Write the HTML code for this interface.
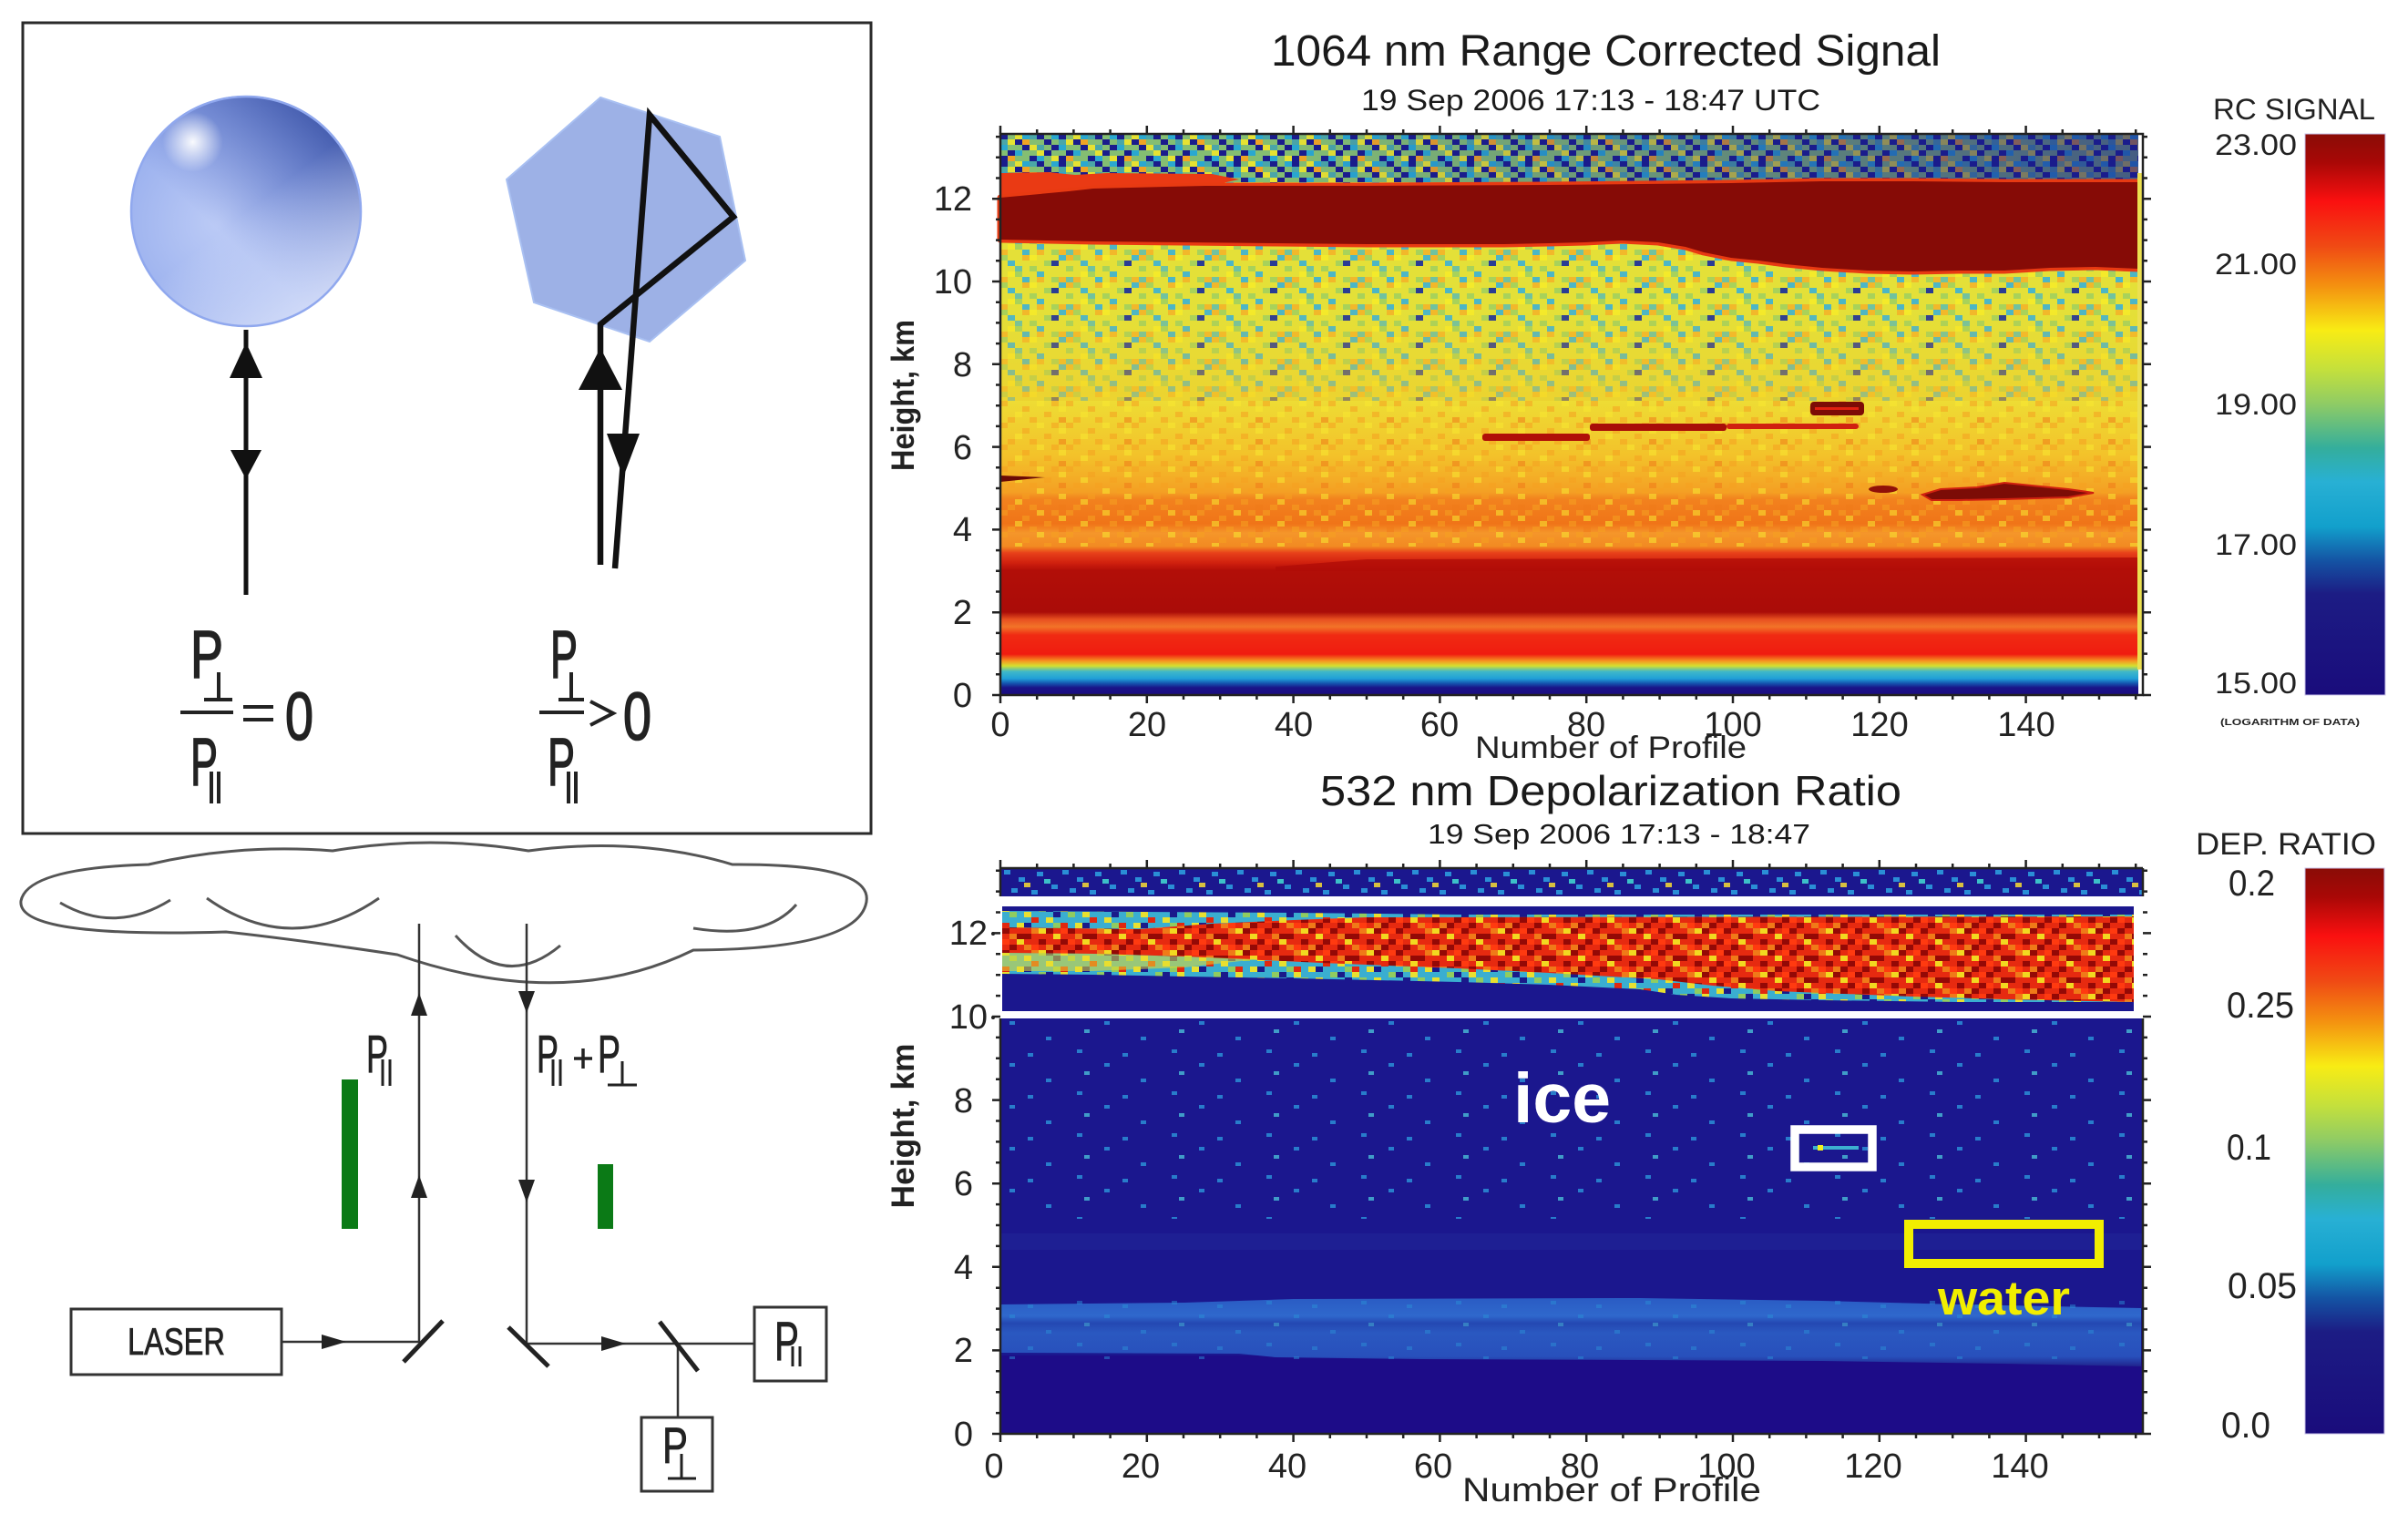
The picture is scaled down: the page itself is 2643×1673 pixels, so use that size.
<!DOCTYPE html>
<html><head><meta charset="utf-8"><style>html,body{margin:0;padding:0;background:#fff}svg{display:block}</style></head>
<body>
<svg width="2643" height="1673" viewBox="0 0 2643 1673" xmlns="http://www.w3.org/2000/svg" xmlns:xlink="http://www.w3.org/1999/xlink" font-family="'Liberation Sans', Arial, sans-serif">
<defs>
<linearGradient id="gCB" x1="0" y1="0" x2="0" y2="1">
<stop offset="0" stop-color="#8a0c06"/><stop offset="0.05" stop-color="#a80806"/><stop offset="0.12" stop-color="#fa1010"/><stop offset="0.2" stop-color="#f04a14"/><stop offset="0.27" stop-color="#f49010"/><stop offset="0.35" stop-color="#f8ec14"/><stop offset="0.42" stop-color="#c4e03c"/><stop offset="0.48" stop-color="#90cc64"/><stop offset="0.56" stop-color="#34ae9c"/><stop offset="0.62" stop-color="#28b0d4"/><stop offset="0.70" stop-color="#12a0cc"/><stop offset="0.76" stop-color="#1454a4"/><stop offset="0.82" stop-color="#1c1c84"/><stop offset="1" stop-color="#1a0c7c"/>
</linearGradient>
<linearGradient id="gLow" gradientUnits="userSpaceOnUse" x1="0" y1="440" x2="0" y2="763">
<stop offset="0" stop-color="#eedc34"/><stop offset="0.186" stop-color="#f3c22a"/><stop offset="0.31" stop-color="#f4a024"/><stop offset="0.334" stop-color="#f2821e"/><stop offset="0.418" stop-color="#f07418"/><stop offset="0.449" stop-color="#f5962a"/><stop offset="0.495" stop-color="#f28a22"/><stop offset="0.517" stop-color="#e8401a"/><stop offset="0.551" stop-color="#d0200e"/><stop offset="0.576" stop-color="#b20e08"/><stop offset="0.718" stop-color="#aa0c08"/><stop offset="0.743" stop-color="#e85020"/><stop offset="0.768" stop-color="#f27428"/><stop offset="0.796" stop-color="#f02a12"/><stop offset="0.861" stop-color="#f01c10"/><stop offset="0.885" stop-color="#f59a22"/><stop offset="0.901" stop-color="#d4e030"/><stop offset="0.92" stop-color="#40b8c8"/><stop offset="0.944" stop-color="#20a0d8"/><stop offset="0.96" stop-color="#1456b0"/><stop offset="0.975" stop-color="#1a1488"/><stop offset="1" stop-color="#1a0c80"/>
</linearGradient>
<linearGradient id="gOrT" gradientUnits="userSpaceOnUse" x1="0" y1="340" x2="0" y2="445">
<stop offset="0" stop-color="#f3c828" stop-opacity="0"/><stop offset="1" stop-color="#f3c828" stop-opacity="0.55"/>
</linearGradient>
<linearGradient id="gNavR" gradientUnits="userSpaceOnUse" x1="1400" y1="0" x2="2347" y2="0">
<stop offset="0" stop-color="#1a1c8c" stop-opacity="0"/><stop offset="1" stop-color="#1a1c8c" stop-opacity="0.6"/>
</linearGradient>
<linearGradient id="gBand" gradientUnits="userSpaceOnUse" x1="0" y1="1426" x2="0" y2="1500">
<stop offset="0" stop-color="#2a5cc4"/><stop offset="0.25" stop-color="#2f68cc"/><stop offset="0.36" stop-color="#2448b2"/><stop offset="0.5" stop-color="#2a58c0"/><stop offset="0.85" stop-color="#2850bc"/><stop offset="1" stop-color="#20248e"/>
</linearGradient>
<radialGradient id="sph" cx="0.38" cy="0.55" r="0.65">
<stop offset="0" stop-color="#bccbf6"/><stop offset="0.7" stop-color="#9ab0ee"/><stop offset="1" stop-color="#8aa0e6"/>
</radialGradient>
<linearGradient id="sphD" x1="0.85" y1="0.1" x2="0.4" y2="0.6">
<stop offset="0" stop-color="#3e56a8" stop-opacity="0.95"/><stop offset="1" stop-color="#5a72c8" stop-opacity="0"/>
</linearGradient>
<linearGradient id="sphL" x1="0.5" y1="0.5" x2="0.85" y2="0.95">
<stop offset="0" stop-color="#e4eafc" stop-opacity="0"/><stop offset="1" stop-color="#e4eafc" stop-opacity="0.85"/>
</linearGradient>
<radialGradient id="sphH" cx="0.27" cy="0.2" r="0.13">
<stop offset="0" stop-color="#ffffff" stop-opacity="0.95"/><stop offset="1" stop-color="#ffffff" stop-opacity="0"/>
</radialGradient>

<pattern id="pN" width="64" height="30" patternUnits="userSpaceOnUse" x="1098" y="147">
<rect width="64" height="30" fill="#84be72"/>
<g fill="#1a1c8c"><rect x="0" y="0" width="8" height="6"/><rect x="16" y="6" width="8" height="6"/><rect x="40" y="0" width="8" height="6"/><rect x="56" y="12" width="8" height="6"/><rect x="8" y="18" width="8" height="6"/><rect x="32" y="24" width="8" height="6"/><rect x="48" y="18" width="8" height="6"/><rect x="24" y="12" width="8" height="6"/><rect x="0" y="24" width="8" height="6"/><rect x="48" y="6" width="8" height="6"/></g>
<g fill="#2aa8d0"><rect x="24" y="0" width="8" height="6"/><rect x="0" y="12" width="8" height="6"/><rect x="40" y="24" width="8" height="6"/><rect x="56" y="0" width="8" height="6"/><rect x="16" y="18" width="8" height="6"/></g>
<g fill="#e6e232"><rect x="8" y="6" width="8" height="6"/><rect x="32" y="12" width="8" height="6"/><rect x="40" y="18" width="8" height="6"/><rect x="16" y="0" width="8" height="6"/><rect x="56" y="24" width="8" height="6"/></g>
<g fill="#f0a424"><rect x="24" y="6" width="8" height="6"/><rect x="8" y="24" width="8" height="6"/></g>
<g fill="#4aa6a8"><rect x="32" y="0" width="8" height="6"/><rect x="0" y="6" width="8" height="6"/><rect x="40" y="12" width="8" height="6"/></g>
</pattern>
<pattern id="pY" width="80" height="30" patternUnits="userSpaceOnUse" x="1098" y="190">
<rect width="80" height="30" fill="#e4e038"/>
<g fill="#4cb6c6"><rect x="8" y="6" width="8" height="6"/><rect x="40" y="18" width="8" height="6"/><rect x="64" y="0" width="8" height="6"/><rect x="24" y="24" width="8" height="6"/></g>
<g fill="#a8d25a"><rect x="0" y="0" width="8" height="6"/><rect x="32" y="12" width="8" height="6"/><rect x="56" y="24" width="8" height="6"/><rect x="72" y="12" width="8" height="6"/><rect x="16" y="18" width="8" height="6"/><rect x="48" y="6" width="8" height="6"/></g>
<g fill="#f2b82a"><rect x="24" y="0" width="8" height="6"/><rect x="64" y="24" width="8" height="6"/><rect x="0" y="24" width="8" height="6"/><rect x="40" y="24" width="8" height="6"/><rect x="72" y="0" width="8" height="6"/></g>
<g fill="#2a3c94"><rect x="56" y="6" width="8" height="6"/></g>
<g fill="#70c2a0"><rect x="16" y="12" width="8" height="6"/><rect x="72" y="24" width="8" height="6"/></g>
<g fill="#f4ea2a"><rect x="32" y="0" width="8" height="6"/><rect x="8" y="18" width="8" height="6"/></g>
</pattern>
<pattern id="pO" width="72" height="24" patternUnits="userSpaceOnUse" x="1098" y="440">
<g fill="#f5a020"><rect x="0" y="0" width="8" height="6"/><rect x="24" y="6" width="8" height="6"/><rect x="48" y="12" width="8" height="6"/><rect x="8" y="18" width="8" height="6"/><rect x="56" y="0" width="8" height="6"/><rect x="32" y="18" width="8" height="6"/></g>
<g fill="#f8e830"><rect x="16" y="12" width="8" height="6"/><rect x="40" y="0" width="8" height="6"/><rect x="64" y="6" width="8" height="6"/></g>
<g fill="#f07a18"><rect x="64" y="18" width="8" height="6"/></g>
</pattern>
<pattern id="pR" width="72" height="24" patternUnits="userSpaceOnUse" x="1100" y="995">
<rect width="72" height="24" fill="#e62a10"/>
<g fill="#940906"><rect x="0" y="0" width="8" height="6"/><rect x="24" y="6" width="8" height="6"/><rect x="48" y="0" width="8" height="6"/><rect x="64" y="12" width="8" height="6"/><rect x="8" y="18" width="8" height="6"/><rect x="40" y="12" width="8" height="6"/><rect x="56" y="18" width="8" height="6"/><rect x="16" y="6" width="8" height="6"/></g>
<g fill="#f07a18"><rect x="32" y="0" width="8" height="6"/><rect x="8" y="6" width="8" height="6"/><rect x="48" y="18" width="8" height="6"/><rect x="24" y="18" width="8" height="6"/></g>
<g fill="#f2d820"><rect x="16" y="12" width="8" height="6"/><rect x="56" y="6" width="8" height="6"/><rect x="40" y="0" width="8" height="6"/></g>
<g fill="#ff3a10"><rect x="0" y="12" width="8" height="6"/><rect x="32" y="18" width="8" height="6"/><rect x="64" y="0" width="8" height="6"/></g>
</pattern>
<pattern id="pC" width="64" height="24" patternUnits="userSpaceOnUse" x="1100" y="995">
<rect width="64" height="24" fill="#3aaed0"/>
<g fill="#e8e030"><rect x="0" y="0" width="8" height="6"/><rect x="24" y="6" width="8" height="6"/><rect x="48" y="12" width="8" height="6"/><rect x="16" y="18" width="8" height="6"/></g>
<g fill="#90cc60"><rect x="8" y="6" width="8" height="6"/><rect x="40" y="0" width="8" height="6"/><rect x="56" y="18" width="8" height="6"/></g>
<g fill="#e02810"><rect x="32" y="12" width="8" height="6"/><rect x="0" y="18" width="8" height="6"/></g>
<g fill="#1a1a8a"><rect x="48" y="0" width="8" height="6"/><rect x="24" y="18" width="8" height="6"/><rect x="56" y="6" width="8" height="6"/></g>
</pattern>
<pattern id="pB" width="104" height="46" patternUnits="userSpaceOnUse" x="1098" y="1118">
<g fill="#2a8ed6"><rect x="10" y="3" width="6" height="4"/><rect x="50" y="20" width="6" height="4"/><rect x="84" y="34" width="6" height="4"/><rect x="30" y="38" width="6" height="4"/></g>
<rect x="92" y="12" width="6" height="4" fill="#46b4d2"/>
</pattern>
<pattern id="pB2" width="64" height="30" patternUnits="userSpaceOnUse" x="1098" y="953">
<g fill="#2a8ed6"><rect x="4" y="2" width="7" height="5"/><rect x="20" y="10" width="7" height="5"/><rect x="40" y="4" width="7" height="5"/><rect x="56" y="18" width="7" height="5"/><rect x="12" y="22" width="7" height="5"/><rect x="34" y="24" width="7" height="5"/></g>
<rect x="48" y="12" width="7" height="5" fill="#3cc0c8"/>
<rect x="26" y="16" width="7" height="5" fill="#d8c040"/>
</pattern>

<path id="xt" d="M1098 0v-9M1138.2 0v-5M1178.4 0v-5M1218.6 0v-5M1258.8 0v-9M1299 0v-5M1339.2 0v-5M1379.4 0v-5M1419.6 0v-9M1459.8 0v-5M1500 0v-5M1540.2 0v-5M1580.4 0v-9M1620.6 0v-5M1660.8 0v-5M1701 0v-5M1741.2 0v-9M1781.4 0v-5M1821.6 0v-5M1861.8 0v-5M1902 0v-9M1942.2 0v-5M1982.4 0v-5M2022.6 0v-5M2062.8 0v-9M2103 0v-5M2143.2 0v-5M2183.4 0v-5M2223.6 0v-9M2263.8 0v-5M2304 0v-5M2344.2 0v-5" stroke="#222" stroke-width="2.5" fill="none"/>
<path id="ytT" d="M0 763h-9M0 740.3h-5M0 717.6h-5M0 694.9h-5M0 672.2h-9M0 649.5h-5M0 626.8h-5M0 604.1h-5M0 581.4h-9M0 558.7h-5M0 536h-5M0 513.3h-5M0 490.6h-9M0 467.9h-5M0 445.2h-5M0 422.5h-5M0 399.8h-9M0 377.1h-5M0 354.4h-5M0 331.7h-5M0 309h-9M0 286.3h-5M0 263.6h-5M0 240.9h-5M0 218.2h-9M0 195.5h-5M0 172.8h-5M0 150.1h-5" stroke="#222" stroke-width="2.5" fill="none"/>
<path id="ytB" d="M0 1574h-9M0 1551.1h-5M0 1528.2h-5M0 1505.3h-5M0 1482.4h-9M0 1459.5h-5M0 1436.6h-5M0 1413.7h-5M0 1390.8h-9M0 1367.9h-5M0 1345h-5M0 1322.1h-5M0 1299.2h-9M0 1276.3h-5M0 1253.4h-5M0 1230.5h-5M0 1207.6h-9M0 1184.7h-5M0 1161.8h-5M0 1138.9h-5M0 1116h-9M0 1093.1h-5M0 1070.2h-5M0 1047.3h-5M0 1024.4h-9M0 1001.5h-5M0 978.6h-5M0 955.7h-5" stroke="#222" stroke-width="2.5" fill="none"/>
</defs>

<rect width="2643" height="1673" fill="#fff"/>

<!-- ================= LEFT TOP BOX ================= -->
<rect x="25" y="25" width="931" height="890" fill="#fff" stroke="#2a2a2a" stroke-width="3"/>
<circle cx="270" cy="232" r="127" fill="url(#sph)"/>
<circle cx="270" cy="232" r="127" fill="url(#sphD)"/>
<circle cx="270" cy="232" r="127" fill="url(#sphL)"/>
<circle cx="270" cy="232" r="127" fill="url(#sphH)"/>
<circle cx="270" cy="232" r="126" fill="none" stroke="#90a8ee" stroke-width="2.5"/>
<line x1="270" y1="362" x2="270" y2="653" stroke="#111" stroke-width="5"/>
<polygon points="270,376 252,415 288,415" fill="#111"/>
<polygon points="270,526 253,494 287,494" fill="#111"/>

<polygon points="659,107 790,150 818,286 713,375 586,332 556,197" fill="#9db1e6" stroke="#a9c0f2" stroke-width="2"/>
<polyline points="659,620 659,356 805,238 713,126 675,624" fill="none" stroke="#111" stroke-width="6.5" stroke-linejoin="miter"/>
<polygon points="659,382 635,428 683,428" fill="#111"/>
<polygon points="684,524 666,476 702,476" fill="#111"/>

<g fill="#222" stroke="#222" stroke-width="1.6">
<text x="209" y="744" font-size="74" textLength="36" lengthAdjust="spacingAndGlyphs">P</text>
<text x="209" y="862" font-size="74" textLength="30" lengthAdjust="spacingAndGlyphs">P</text>
<text x="313" y="812" font-size="74" textLength="31" lengthAdjust="spacingAndGlyphs">0</text>
<text x="604" y="744" font-size="74" textLength="30" lengthAdjust="spacingAndGlyphs">P</text>
<text x="601" y="862" font-size="74" textLength="30" lengthAdjust="spacingAndGlyphs">P</text>
<text x="684" y="812" font-size="74" textLength="31" lengthAdjust="spacingAndGlyphs">0</text>
</g>
<g stroke="#222" stroke-width="4" fill="none">
<path d="M224 768H255M240 738V768"/>
<path d="M198 782H256"/>
<path d="M267 776H300M267 790H300"/>
<path d="M232 847V882M240 847V882"/>
<path d="M613 768H641M627 738V768"/>
<path d="M592 782H641"/>
<polyline points="648,770 673,783 648,796"/>
<path d="M624 847V882M632 847V882"/>
</g>

<!-- ================= LOWER LEFT DIAGRAM ================= -->
<path d="M163,949 Q262,926 365,934 Q472,916 580,934 Q700,918 804,949 Q965,948 950,994 Q935,1042 761,1043 Q620,1112 436,1048 Q330,1032 248,1023 Q18,1030 23,989 Q30,953 163,949 Z" fill="#fff" stroke="#555" stroke-width="3"/>
<g fill="none" stroke="#555" stroke-width="3">
<path d="M66,991 Q126,1026 187,988"/>
<path d="M227,986 Q320,1052 416,986"/>
<path d="M500,1027 Q555,1088 615,1038"/>
<path d="M761,1019 Q840,1032 874,993"/>
</g>
<g stroke="#333" stroke-width="2.5" fill="none">
<line x1="460" y1="1014" x2="460" y2="1474"/>
<line x1="578" y1="1014" x2="578" y2="1476"/>
<line x1="309" y1="1473" x2="460" y2="1473"/>
<line x1="578" y1="1475" x2="828" y2="1475"/>
<line x1="744" y1="1475" x2="744" y2="1556"/>
<rect x="78" y="1437" width="231" height="72" stroke-width="3"/>
<rect x="828" y="1435" width="79" height="81" stroke-width="3"/>
<rect x="704" y="1556" width="78" height="81" stroke-width="3"/>
</g>
<g stroke="#222" stroke-width="5">
<line x1="443" y1="1495" x2="486" y2="1450"/>
<line x1="558" y1="1457" x2="602" y2="1500"/>
<line x1="724" y1="1451" x2="766" y2="1505"/>
</g>
<g fill="#222">
<polygon points="460,1090 451,1115 469,1115"/>
<polygon points="460,1290 451,1315 469,1315"/>
<polygon points="578,1112 569,1088 587,1088"/>
<polygon points="578,1320 569,1295 587,1295"/>
<polygon points="380,1473 353,1465 353,1481"/>
<polygon points="687,1475 660,1467 660,1483"/>
</g>
<rect x="375" y="1185" width="18" height="164" fill="#0b7a16"/>
<rect x="656" y="1278" width="17" height="71" fill="#0b7a16"/>
<g fill="#222" stroke="#222" stroke-width="0.8">
<text x="402" y="1177" font-size="58" textLength="24" lengthAdjust="spacingAndGlyphs">P</text>
<text x="589" y="1177" font-size="58" textLength="24" lengthAdjust="spacingAndGlyphs">P</text>
<text x="656" y="1177" font-size="58" textLength="25" lengthAdjust="spacingAndGlyphs">P</text>
<text x="140" y="1487" font-size="42" textLength="107" lengthAdjust="spacingAndGlyphs">LASER</text>
<text x="850" y="1493" font-size="60" textLength="27" lengthAdjust="spacingAndGlyphs">P</text>
<text x="727" y="1606" font-size="56" textLength="28" lengthAdjust="spacingAndGlyphs">P</text>
</g>
<g stroke="#222" stroke-width="3" fill="none">
<path d="M420 1163V1192M428 1163V1192"/>
<path d="M607 1163V1192M615 1163V1192"/>
<path d="M630 1162H650M640 1151V1173" stroke-width="3.5"/>
<path d="M667 1191H699M683 1165V1191"/>
<path d="M870 1478V1500M878 1478V1500"/>
<path d="M733 1623H764M748 1596V1623"/>
</g>

<!-- ================= TOP CHART ================= -->
<rect x="1098" y="147" width="1249" height="55" fill="url(#pN)"/>
<rect x="1400" y="147" width="947" height="55" fill="url(#gNavR)"/>
<rect x="1098" y="200" width="1249" height="245" fill="url(#pY)"/>
<rect x="1098" y="340" width="1249" height="105" fill="url(#gOrT)"/>
<rect x="1098" y="440" width="1249" height="323" fill="url(#gLow)"/>
<rect x="1098" y="440" width="1249" height="160" fill="url(#pO)" opacity="0.55"/>
<polygon points="1400,622 1500,614 2347,612 2347,626 1400,627" fill="#b00c08" opacity="0.8"/>
<polygon points="1098,190 1150,189 1180,192 1215,190 1330,191 1360,197 1323,205 1173,211 1098,219" fill="#ea3a14"/>
<polygon points="1098,217 1173,210 1200,207 1323,204 1500,204 1700,203 1900,201 2000,199 2100,199 2200,200 2347,200 2347,295 2300,293 2250,294 2200,297 2150,297 2100,298 2050,297 2000,294 1960,290 1930,286 1900,283 1870,277 1850,271 1820,266 1780,264 1740,266 1700,267 1650,268 1600,268 1500,268 1400,267 1300,266 1200,265 1098,263" fill="#860b06" stroke="#e83a12" stroke-width="7" stroke-linejoin="round"/>
<polygon points="1098,217 1173,210 1200,207 1323,204 1500,204 1700,203 1900,201 2000,199 2100,199 2200,200 2347,200 2347,295 2300,293 2250,294 2200,297 2150,297 2100,298 2050,297 2000,294 1960,290 1930,286 1900,283 1870,277 1850,271 1820,266 1780,264 1740,266 1700,267 1650,268 1600,268 1500,268 1400,267 1300,266 1200,265 1098,263" fill="#860b06"/>
<rect x="1987" y="441" width="59" height="15" rx="4" fill="#7c0c06"/>
<rect x="1992" y="447" width="48" height="3" fill="#e02010"/>
<rect x="1627" y="476" width="118" height="8" rx="3" fill="#b01008"/>
<rect x="1745" y="465" width="150" height="8" rx="3" fill="#a80e08"/>
<rect x="1895" y="465" width="145" height="6" rx="3" fill="#d02010"/>
<polygon points="2110,543 2130,537 2170,535 2200,530 2230,533 2270,537 2298,541 2270,546 2200,548 2150,549 2120,549" fill="#7c0c06" stroke="#d02010" stroke-width="2"/>
<ellipse cx="2067" cy="537" rx="16" ry="4" fill="#901008"/>
<polygon points="1098,522 1147,524 1098,529" fill="#6a0a06"/>
<rect x="2346" y="190" width="5" height="545" fill="#ece050"/>
<rect x="1098" y="147" width="1254" height="616" fill="none" stroke="#222" stroke-width="2.5"/>
<use xlink:href="#xt" transform="translate(0 147)"/>
<use xlink:href="#xt" transform="translate(0 763) scale(1 -1)"/>
<use xlink:href="#ytT" transform="translate(1098 0)"/>
<use xlink:href="#ytT" transform="translate(2352 0) scale(-1 1)"/>
<g fill="#222" font-size="38">
<g text-anchor="end">
<text x="1067" y="776">0</text><text x="1067" y="685">2</text><text x="1067" y="594">4</text><text x="1067" y="504">6</text><text x="1067" y="413">8</text><text x="1067" y="322">10</text><text x="1067" y="231">12</text>
</g>
<g text-anchor="middle">
<text x="1098" y="808">0</text><text x="1259" y="808">20</text><text x="1420" y="808">40</text><text x="1580" y="808">60</text><text x="1741" y="808">80</text><text x="1902" y="808">100</text><text x="2063" y="808">120</text><text x="2224" y="808">140</text>
</g>
</g>
<text x="1619" y="832" font-size="34" fill="#222" textLength="298" lengthAdjust="spacingAndGlyphs">Number of Profile</text>
<text transform="translate(1003 434) rotate(-90)" text-anchor="middle" font-size="35" font-weight="bold" fill="#222" textLength="166" lengthAdjust="spacingAndGlyphs">Height, km</text>
<text x="1395" y="72" font-size="48" fill="#1a1a1a" textLength="735" lengthAdjust="spacingAndGlyphs">1064 nm Range Corrected Signal</text>
<text x="1494" y="121" font-size="32" fill="#1a1a1a" textLength="504" lengthAdjust="spacingAndGlyphs">19 Sep 2006 17:13 - 18:47 UTC</text>
<rect x="2530" y="147" width="88" height="616" fill="url(#gCB)" stroke="#c8c0e8" stroke-width="1"/>
<g fill="#222" font-size="32">
<text x="2429" y="131" textLength="178" lengthAdjust="spacingAndGlyphs">RC SIGNAL</text>
<g text-anchor="end">
<text x="2521" y="170" textLength="90" lengthAdjust="spacingAndGlyphs">23.00</text>
<text x="2521" y="301" textLength="90" lengthAdjust="spacingAndGlyphs">21.00</text>
<text x="2521" y="455" textLength="90" lengthAdjust="spacingAndGlyphs">19.00</text>
<text x="2521" y="609" textLength="90" lengthAdjust="spacingAndGlyphs">17.00</text>
<text x="2521" y="761" textLength="90" lengthAdjust="spacingAndGlyphs">15.00</text>
</g>
<text x="2437" y="796" font-size="10" font-weight="bold" textLength="153" lengthAdjust="spacingAndGlyphs">(LOGARITHM OF DATA)</text>
</g>

<!-- ================= BOTTOM CHART ================= -->
<rect x="1098" y="953" width="1254" height="31" fill="#1b178e"/>
<rect x="1098" y="953" width="1254" height="31" fill="url(#pB2)"/>
<rect x="1100" y="995" width="1242" height="115" fill="#1b178e"/>
<polygon points="1100,1000 1420,1002 1600,1004 2342,1004 2342,1104 2200,1103 2150,1100 2000,1098 1900,1096 1840,1092 1800,1086 1700,1081 1600,1078 1420,1074 1300,1072 1200,1070 1100,1069" fill="url(#pC)"/>
<polygon points="1100,1018 1250,1020 1330,1014 1420,1010 1500,1007 2342,1006 2342,1100 2200,1097 2100,1094 1950,1088 1880,1082 1820,1075 1700,1068 1600,1063 1450,1057 1300,1050 1200,1047 1100,1046" fill="url(#pR)"/>
<polygon points="1100,1046 1200,1047 1300,1050 1380,1053 1300,1062 1200,1066 1100,1066" fill="#e8dc30" opacity="0.55"/>
<rect x="1100" y="1100" width="1242" height="10" fill="#1b178e"/>
<rect x="1098" y="1118" width="1254" height="456" fill="#1b178e"/>
<rect x="1098" y="1354" width="1254" height="18" fill="#2a40aa" opacity="0.22"/>
<rect x="1098" y="1488" width="1254" height="86" fill="#1d0c88"/>
<polygon points="1098,1432 1300,1430 1420,1426 1800,1425 2000,1428 2150,1432 2350,1436 2350,1500 2200,1497 2000,1494 1800,1493 1560,1492 1400,1490 1360,1486 1098,1485" fill="url(#gBand)"/>
<rect x="1098" y="1118" width="1254" height="220" fill="url(#pB)" opacity="0.85"/>
<rect x="1098" y="1426" width="1254" height="66" fill="url(#pB)" opacity="0.5"/>
<text x="1661" y="1232" font-size="77" font-weight="bold" fill="#fff">ice</text>
<rect x="1970" y="1240" width="85" height="41" fill="none" stroke="#fff" stroke-width="9.5"/>
<rect x="1990" y="1258" width="50" height="4" fill="#3cb0d0"/>
<rect x="1995" y="1257" width="6" height="6" fill="#f0f020"/>
<rect x="2095" y="1344" width="209" height="43" fill="none" stroke="#f2ee00" stroke-width="10"/>
<text x="2127" y="1443" font-size="53" font-weight="bold" fill="#f2ee00" textLength="145" lengthAdjust="spacingAndGlyphs">water</text>
<g stroke="#222" stroke-width="2.5" fill="none">
<line x1="1098" y1="953" x2="2352" y2="953"/>
<line x1="1098" y1="1574" x2="2352" y2="1574"/>
<line x1="1098" y1="953" x2="1098" y2="984"/>
<line x1="1098" y1="1118" x2="1098" y2="1574"/>
<line x1="2352" y1="953" x2="2352" y2="984"/>
<line x1="2352" y1="1118" x2="2352" y2="1574"/>
</g>
<use xlink:href="#xt" transform="translate(0 953)"/>
<use xlink:href="#xt" transform="translate(0 1574) scale(1 -1)"/>
<use xlink:href="#ytB" transform="translate(1098 0)"/>
<use xlink:href="#ytB" transform="translate(2352 0) scale(-1 1)"/>
<g fill="#222" font-size="38">
<g text-anchor="end">
<text x="1068" y="1587">0</text><text x="1068" y="1495">2</text><text x="1068" y="1404">4</text><text x="1068" y="1312">6</text><text x="1068" y="1221">8</text><text x="1084" y="1129">10</text><text x="1084" y="1037">12</text>
</g>
<circle cx="1090" cy="1117" r="2"/><circle cx="1090" cy="1025" r="2"/>
<g text-anchor="middle">
<text x="1091" y="1622">0</text><text x="1252" y="1622">20</text><text x="1413" y="1622">40</text><text x="1573" y="1622">60</text><text x="1734" y="1622">80</text><text x="1895" y="1622">100</text><text x="2056" y="1622">120</text><text x="2217" y="1622">140</text>
</g>
</g>
<text x="1605" y="1648" font-size="37" fill="#222" textLength="328" lengthAdjust="spacingAndGlyphs">Number of Profile</text>
<text transform="translate(1003 1236) rotate(-90)" text-anchor="middle" font-size="35" font-weight="bold" fill="#222" textLength="181" lengthAdjust="spacingAndGlyphs">Height, km</text>
<text x="1449" y="884" font-size="46" fill="#1a1a1a" textLength="638" lengthAdjust="spacingAndGlyphs">532 nm Depolarization Ratio</text>
<text x="1567" y="926" font-size="31" fill="#1a1a1a" textLength="420" lengthAdjust="spacingAndGlyphs">19 Sep 2006 17:13 - 18:47</text>
<rect x="2530" y="953" width="87" height="621" fill="url(#gCB)" stroke="#c8c0e8" stroke-width="1"/>
<g fill="#222" font-size="40">
<text x="2410" y="938" font-size="34" textLength="198" lengthAdjust="spacingAndGlyphs">DEP. RATIO</text>
<text x="2446" y="983" textLength="51" lengthAdjust="spacingAndGlyphs">0.2</text>
<text x="2444" y="1117" textLength="74" lengthAdjust="spacingAndGlyphs">0.25</text>
<text x="2444" y="1273" textLength="49" lengthAdjust="spacingAndGlyphs">0.1</text>
<text x="2445" y="1425" textLength="76" lengthAdjust="spacingAndGlyphs">0.05</text>
<text x="2438" y="1578" textLength="54" lengthAdjust="spacingAndGlyphs">0.0</text>
</g>
</svg>
</body></html>
